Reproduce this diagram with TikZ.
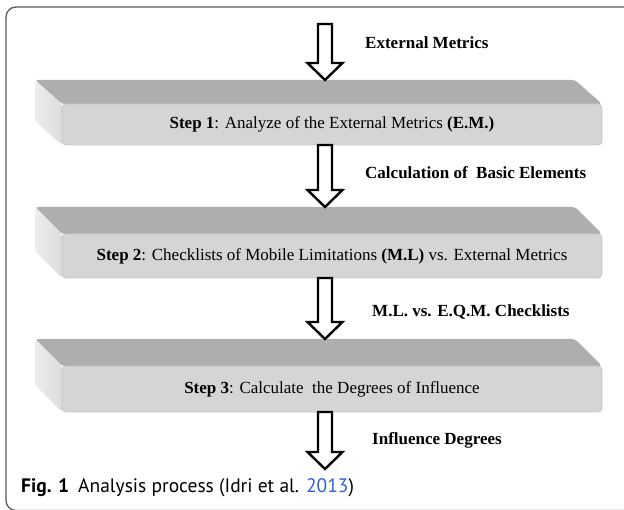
\documentclass[tikz,border=0pt]{standalone}
\usepackage{fontspec}
\setmainfont{Liberation Serif}
\newfontfamily\capfont{PT Sans}
\usetikzlibrary{calc}
\definecolor{topgray}{HTML}{AEAEAF}
\definecolor{leftA}{HTML}{EDEDED}
\definecolor{leftB}{HTML}{DCDCDC}
\definecolor{frontgray}{HTML}{D4D5D5}
\definecolor{frontedge}{HTML}{C6C6C6}
\definecolor{framecol}{HTML}{5A5A5A}
\definecolor{linkblue}{HTML}{2F5FE0}
\tikzset{
  frontbox/.style={draw=frontedge, line width=0.8pt, fill=frontgray, rounded corners=4pt,
    minimum width=540pt, inner sep=0pt, font=\fontsize{17}{20}\selectfont},
  blockarrow/.style={draw=black, fill=white, line width=2.4pt, line join=miter},
  steplabel/.style={anchor=west, inner sep=0pt, font=\fontsize{17}{20}\selectfont\bfseries}
}
\newcommand{\slab}[5]{%
  \fill[topgray, rounded corners=3pt] (35,#2) -- (575,#2) -- (602,#3) -- (62,#3) -- cycle;
  \shade[left color=leftA, right color=leftB, rounded corners=3pt] (35,#2) -- (62,#3) -- (62,#4) -- (35,{#4-#3+#2}) -- cycle;
  \node[frontbox, minimum height={#4pt-#3pt}] (#1) at (332,{(#3+#4)/2}) {#5};
  \coordinate (#1top) at (325,#2);
  \coordinate (#1out) at (325,#4);
}
\newcommand{\blockarr}[2]{%
  \draw[blockarrow] let \p1=(#1), \p2=(#2) in
    (\x1-7pt,\y1) -- (\x1+7pt,\y1) -- (\x1+7pt,\y2+17pt) -- (\x1+17.5pt,\y2+17pt)
    -- (\x1,\y2) -- (\x1-17.5pt,\y2+17pt) -- (\x1-7pt,\y2+17pt) -- cycle;}
\begin{document}
\begin{tikzpicture}[x=1pt,y=-1pt]
\useasboundingbox (0,0) rectangle (624,510);
\clip (0,0) rectangle (624,510);
\fill[white] (0,0) rectangle (624,510);
\draw[framecol, line width=1.3pt, rounded corners=10pt] (650,7) -- (6,7) -- (6,510.5) -- (650,510.5);

\slab{s1}{80}{104}{145}{\textbf{Step 1}: Analyze of the External Metrics \textbf{(E.M.)}}
\slab{s2}{207}{234}{278}{\textbf{Step 2}: Checklists of Mobile Limitations \textbf{(M.L)} vs. External Metrics}
\slab{s3}{339}{366}{412}{\textbf{Step 3}: Calculate~ the Degrees of Influence}

\coordinate (in0) at (325,24);
\coordinate (out3) at (325,469);
\blockarr{in0}{s1top}
\blockarr{s1out}{s2top}
\blockarr{s2out}{s3top}
\blockarr{s3out}{out3}

\node[steplabel] (l0) at (365,43) {External Metrics};
\node[steplabel] (l1) at (365,173) {Calculation of~ Basic Elements};
\node[steplabel] (l2) at (372,312) {M.L. vs. E.Q.M. Checklists};
\node[steplabel] (l3) at (372,440) {Influence Degrees};

\node[anchor=west, inner sep=0pt, font=\capfont\fontsize{19.5}{22}\selectfont] (cap) at (21,488)
  {\textbf{Fig. 1}\hspace{9pt}Analysis process (Idri et al. \textcolor{linkblue}{2013})};
\end{tikzpicture}
\end{document}
